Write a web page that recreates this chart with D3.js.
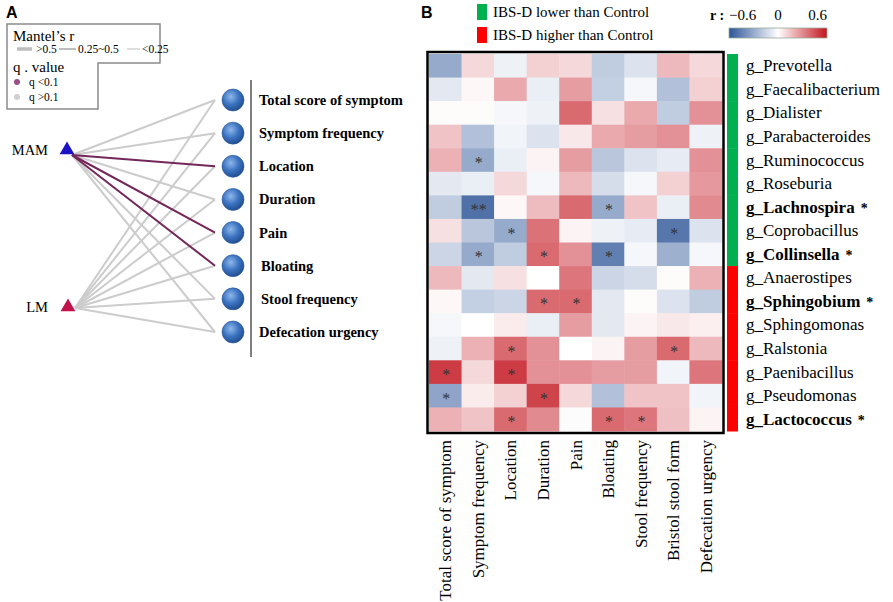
<!DOCTYPE html>
<html>
<head>
<meta charset="utf-8">
<title>Mantel network and genus correlation heatmap</title>
<script src="https://d3js.org/d3.v7.min.js"></script>
<style>
  body { margin: 0; background: #fff; }
  svg { display: block; }
  .serif { font-family: "Liberation Serif", "Times New Roman", serif; }
</style>
</head>
<body>
<div id="chart"></div>
<script>
// ---- panel A data ----
var sources = ["MAM", "LM"];
var symptomsA = ["Total score of symptom", "Symptom frequency", "Location", "Duration",
                 "Pain", "Bloating", "Stool frequency", "Defecation urgency"];
// q < 0.1 edges (purple), everything else gray
var mamSignif = [0, 0, 1, 0, 1, 1, 0, 0];
var lmSignif  = [0, 0, 0, 0, 0, 0, 0, 0];

// ---- panel B data ----
var symptomsB = ["Total score of symptom", "Symptom frequency", "Location", "Duration", "Pain",
                 "Bloating", "Stool frequency", "Bristol stool form", "Defecation urgency"];
var genera = ["g_Prevotella", "g_Faecalibacterium", "g_Dialister", "g_Parabacteroides",
              "g_Ruminococcus", "g_Roseburia", "g_Lachnospira", "g_Coprobacillus", "g_Collinsella",
              "g_Anaerostipes", "g_Sphingobium", "g_Sphingomonas", "g_Ralstonia",
              "g_Paenibacillus", "g_Pseudomonas", "g_Lactococcus"];
var generaGroup = ["lower","lower","lower","lower","lower","lower","lower","lower","lower",
                   "higher","higher","higher","higher","higher","higher","higher"];
var generaBold = ["g_Lachnospira", "g_Collinsella", "g_Sphingobium", "g_Lactococcus"];
var rValues = [
  [-0.30,  0.10, -0.05,  0.12,  0.10, -0.18, -0.10,  0.18,  0.10],
  [-0.08,  0.02,  0.22, -0.06,  0.25, -0.17, -0.03, -0.22,  0.12],
  [ 0.01,  0.01, -0.03, -0.05,  0.38,  0.08,  0.22, -0.18,  0.28],
  [ 0.15, -0.22, -0.04, -0.10,  0.06,  0.22,  0.25,  0.28, -0.05],
  [ 0.20, -0.30, -0.06,  0.03,  0.25, -0.20, -0.10, -0.07,  0.28],
  [-0.08, -0.06,  0.10, -0.03,  0.18, -0.12, -0.03,  0.12,  0.26],
  [-0.18, -0.50,  0.02,  0.17,  0.38, -0.30,  0.15, -0.06,  0.30],
  [ 0.08, -0.20, -0.30,  0.36,  0.03, -0.05, -0.07, -0.48, -0.10],
  [-0.15, -0.30, -0.18,  0.38,  0.28, -0.45, -0.03, -0.28, -0.03],
  [ 0.18, -0.08,  0.08,  0.00,  0.35, -0.15, -0.12,  0.01,  0.20],
  [ 0.02, -0.17, -0.15,  0.38,  0.38, -0.08,  0.01, -0.10, -0.18],
  [-0.03,  0.00,  0.05, -0.06,  0.25, -0.08,  0.03,  0.06,  0.04],
  [-0.05,  0.20,  0.38,  0.28,  0.00,  0.03,  0.25,  0.38,  0.18],
  [ 0.50,  0.10,  0.50,  0.28,  0.28,  0.25,  0.25, -0.04,  0.35],
  [-0.32,  0.05,  0.12,  0.48,  0.10, -0.22,  0.15,  0.15, -0.04],
  [ 0.20,  0.15,  0.38,  0.30, -0.01,  0.38,  0.35,  0.16,  0.03]
];
var stars = [
  ["", "", "", "", "", "", "", "", ""],
  ["", "", "", "", "", "", "", "", ""],
  ["", "", "", "", "", "", "", "", ""],
  ["", "", "", "", "", "", "", "", ""],
  ["", "*", "", "", "", "", "", "", ""],
  ["", "", "", "", "", "", "", "", ""],
  ["", "**", "", "", "", "*", "", "", ""],
  ["", "", "*", "", "", "", "", "*", ""],
  ["", "*", "", "*", "", "*", "", "", ""],
  ["", "", "", "", "", "", "", "", ""],
  ["", "", "", "*", "*", "", "", "", ""],
  ["", "", "", "", "", "", "", "", ""],
  ["", "", "*", "", "", "", "", "*", ""],
  ["*", "", "*", "", "", "", "", "", ""],
  ["*", "", "", "*", "", "", "", "", ""],
  ["", "", "*", "", "", "*", "*", "", ""]
];
var colorTicks = [-0.6, 0, 0.6];
var mantelLabels = [">0.5", "0.25~0.5", "<0.25"];

var W = 893, H = 602;
var svg = d3.select("#chart").append("svg").attr("width", W).attr("height", H);

var defs = svg.append("defs");
var ball = defs.append("radialGradient").attr("id", "ball")
    .attr("cx", "40%").attr("cy", "35%").attr("r", "65%");
ball.append("stop").attr("offset", "0%").attr("stop-color", "#8fb8ea");
ball.append("stop").attr("offset", "55%").attr("stop-color", "#3d74c2");
ball.append("stop").attr("offset", "100%").attr("stop-color", "#224f93");

// ================= PANEL A =================
svg.append("text").attr("x", 6).attr("y", 18)
    .style("font-family", "Liberation Sans, Arial, sans-serif")
    .style("font-weight", "bold").style("font-size", "16px").text("A");

// legend box
var lg = svg.append("g");
lg.append("path")
    .attr("d", "M7,24 H160 V63 H98 V109 H7 Z")
    .attr("fill", "#fff").attr("stroke", "#8a8a8a").attr("stroke-width", 1.5);
lg.append("text").attr("class", "serif").attr("x", 13).attr("y", 41)
    .style("font-size", "15px").text("Mantel\u2019s  r");
// line key: [line start, line end, text x, stroke width]
var mantelKeyPos = [[17, 32, 36, 3.5], [59, 76, 78, 2], [127, 140, 142, 1]];
mantelLabels.forEach(function (lab, i) {
  var k = mantelKeyPos[i];
  lg.append("line").attr("x1", k[0]).attr("x2", k[1]).attr("y1", 49).attr("y2", 49)
      .attr("stroke", "#bdbdbd").attr("stroke-width", k[3]);
  lg.append("text").attr("class", "serif").attr("x", k[2]).attr("y", 53)
      .style("font-size", "11.5px").text(lab);
});
lg.append("text").attr("class", "serif").attr("x", 13).attr("y", 72)
    .style("font-size", "15px").text("q . value");
lg.append("circle").attr("cx", 17).attr("cy", 82).attr("r", 3).attr("fill", "#9b4f87");
lg.append("text").attr("class", "serif").attr("x", 29).attr("y", 86)
    .style("font-size", "11.5px").text("q <0.1");
lg.append("circle").attr("cx", 17).attr("cy", 97).attr("r", 3).attr("fill", "#cfcfcf");
lg.append("text").attr("class", "serif").attr("x", 29).attr("y", 101)
    .style("font-size", "11.5px").text("q >0.1");

// network
var yA = d3.scalePoint().domain(symptomsA).range([100, 332]);
var srcPos = {
  MAM: { x: 67, y: 150, lx: 72, ly: 155, color: "#1c14c4" },
  LM:  { x: 68, y: 307, lx: 75, ly: 308, color: "#c2124c" }
};
var edges = [];
symptomsA.forEach(function (s, i) {
  edges.push({ src: "LM", sym: s, sig: lmSignif[i] });
});
symptomsA.forEach(function (s, i) {
  edges.push({ src: "MAM", sym: s, sig: mamSignif[i] });
});
edges.sort(function (a, b) { return a.sig - b.sig; });

svg.append("g").selectAll("line").data(edges).enter().append("line")
    .attr("x1", function (d) { return srcPos[d.src].lx; })
    .attr("y1", function (d) { return srcPos[d.src].ly; })
    .attr("x2", 215)
    .attr("y2", function (d) { return yA(d.sym); })
    .attr("stroke", function (d) { return d.sig ? "#74285a" : "#cccccc"; })
    .attr("stroke-width", 2);

var tri = d3.symbol().type(d3.symbolTriangle).size(95);
sources.forEach(function (s) {
  var p = srcPos[s];
  svg.append("path").attr("d", tri)
      .attr("transform", "translate(" + p.x + "," + p.y + ")")
      .attr("fill", p.color);
  svg.append("text").attr("class", "serif").attr("x", 48).attr("y", p.y + 5)
      .attr("text-anchor", "end").style("font-size", "14.5px").text(s);
});

svg.append("g").selectAll("circle").data(symptomsA).enter().append("circle")
    .attr("cx", 233).attr("cy", function (d) { return yA(d); })
    .attr("r", 11).attr("fill", "url(#ball)")
    .attr("stroke", "#2a5796").attr("stroke-width", 0.6);

svg.append("line").attr("x1", 251).attr("x2", 251).attr("y1", 80).attr("y2", 357)
    .attr("stroke", "#555").attr("stroke-width", 1.5);

svg.append("g").selectAll("text").data(symptomsA).enter().append("text")
    .attr("class", "serif")
    .attr("x", function (d) { return (d === "Bloating" || d === "Stool frequency") ? 261 : 259; })
    .attr("y", function (d) { return yA(d) + 5; })
    .style("font-size", "14.5px").style("font-weight", "bold")
    .text(function (d) { return d; });

// ================= PANEL B =================
svg.append("text").attr("x", 421).attr("y", 18)
    .style("font-family", "Liberation Sans, Arial, sans-serif")
    .style("font-weight", "bold").style("font-size", "16px").text("B");

var groupColor = { lower: "#00b050", higher: "#ff0000" };
var groupLabel = { lower: "IBS-D lower than Control", higher: "IBS-D higher than Control" };
["lower", "higher"].forEach(function (g, i) {
  var y0 = 4 + i * 23;
  svg.append("rect").attr("x", 477).attr("y", y0).attr("width", 10).attr("height", 16)
      .attr("fill", groupColor[g]);
  svg.append("text").attr("class", "serif").attr("x", 493).attr("y", y0 + 13)
      .style("font-size", "15px").text(groupLabel[g]);
});

var color = d3.scaleLinear().domain([-0.6, 0, 0.6])
    .range(["#2d5597", "#ffffff", "#c3141e"]).clamp(true);

// color bar
var cbx = d3.scaleLinear().domain([-0.6, 0.6]).range([729, 827]);
var grad = defs.append("linearGradient").attr("id", "cbar");
d3.range(0, 1.0001, 0.1).forEach(function (t) {
  grad.append("stop").attr("offset", (t * 100) + "%")
      .attr("stop-color", color(-0.6 + 1.2 * t));
});
svg.append("rect").attr("x", cbx(-0.6)).attr("y", 28).attr("width", cbx(0.6) - cbx(-0.6))
    .attr("height", 10).attr("fill", "url(#cbar)").attr("stroke", "#9aa99a").attr("stroke-width", 0.8);
svg.append("text").attr("class", "serif").attr("x", 710).attr("y", 20)
    .style("font-size", "14px").style("font-weight", "bold").text("r :");
svg.append("g").selectAll("text").data(colorTicks).enter().append("text")
    .attr("class", "serif")
    .attr("x", function (d) { return cbx(d); })
    .attr("y", 20)
    .attr("text-anchor", function (d, i) { return ["start", "middle", "end"][i]; })
    .style("font-size", "15px")
    .text(function (d) { return d === 0 ? "0" : d3.format(".1f")(d); });

// heatmap
var xB = d3.scaleBand().domain(symptomsB).range([429, 722]);
var yB = d3.scaleBand().domain(genera).range([54, 431]);
var cells = [];
genera.forEach(function (g, i) {
  symptomsB.forEach(function (s, j) {
    cells.push({ g: g, s: s, r: rValues[i][j], star: stars[i][j] });
  });
});
var hm = svg.append("g");
hm.selectAll("rect").data(cells).enter().append("rect")
    .attr("x", function (d) { return xB(d.s); })
    .attr("y", function (d) { return yB(d.g); })
    .attr("width", xB.bandwidth() + 0.5)
    .attr("height", yB.bandwidth() + 0.5)
    .attr("fill", function (d) { return color(d.r); });
hm.selectAll("text").data(cells.filter(function (d) { return d.star; })).enter().append("text")
    .attr("class", "serif")
    .attr("x", function (d) { return xB(d.s) + xB.bandwidth() / 2 + 1; })
    .attr("y", function (d) { return yB(d.g) + yB.bandwidth() / 2 + 8; })
    .attr("text-anchor", "middle").style("font-size", "16px").attr("fill", "#333")
    .text(function (d) { return d.star; });

svg.append("rect").attr("x", 427.5).attr("y", 52).attr("width", 296).attr("height", 381)
    .attr("fill", "none").attr("stroke", "#000").attr("stroke-width", 2.5);

// x labels (rotated)
svg.append("g").selectAll("text").data(symptomsB).enter().append("text")
    .attr("class", "serif")
    .attr("transform", function (d) {
      return "translate(" + (xB(d) + xB.bandwidth() / 2 + 6) + ",440) rotate(-90)";
    })
    .attr("text-anchor", "end").style("font-size", "17px")
    .text(function (d) { return d; });

// group side bar
svg.append("g").selectAll("rect").data(genera).enter().append("rect")
    .attr("x", 727).attr("width", 11)
    .attr("y", function (d) { return yB(d); })
    .attr("height", yB.bandwidth() + 0.5)
    .attr("fill", function (d, i) { return groupColor[generaGroup[i]]; });

// row labels
var rl = svg.append("g").selectAll("text").data(genera).enter().append("text")
    .attr("class", "serif")
    .attr("x", 746)
    .attr("y", function (d) { return yB(d) + yB.bandwidth() / 2 + 5.5; })
    .style("font-size", "17px")
    .style("font-weight", function (d) { return generaBold.indexOf(d) >= 0 ? "bold" : "normal"; });
rl.append("tspan").text(function (d) { return d; });
rl.filter(function (d) { return generaBold.indexOf(d) >= 0; })
    .append("tspan").attr("dx", 6).style("font-size", "14px").text("*");
</script>
</body>
</html>
